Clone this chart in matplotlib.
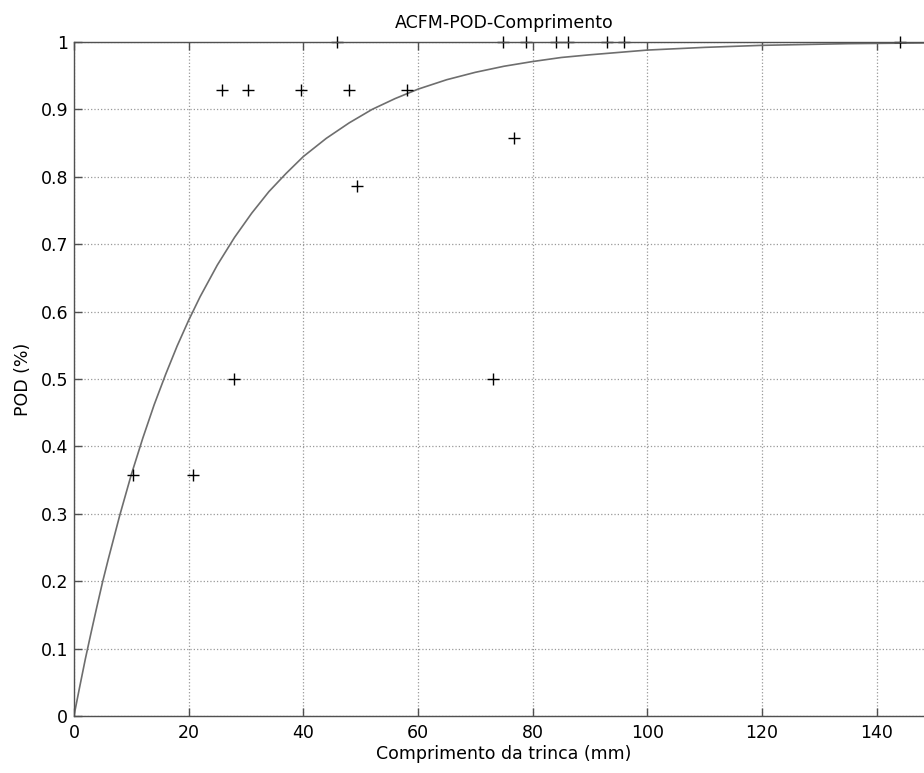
import matplotlib
matplotlib.use("Agg")
import matplotlib.pyplot as plt

# crack length (mm) and hit ratio of each inspected crack
crack_len = [10.3, 20.8, 27.9, 73.0, 49.4, 76.7,
             25.9, 30.4, 39.6, 47.9, 58.1,
             45.9, 74.9, 78.8, 84.1, 86.1, 92.9, 96.0, 144.0]
pod_obs = [0.357, 0.357, 0.5, 0.5, 0.786, 0.857,
           0.929, 0.929, 0.929, 0.929, 0.929,
           1, 1, 1, 1, 1, 1, 1, 1]

# fitted POD curve
curve_x = [0, 1, 2, 3, 4, 5, 6, 8, 10, 12, 14, 16, 18, 20, 22, 25, 28, 31, 34,
           37, 40, 44, 48, 52, 56, 60, 65, 70, 75, 80, 85, 90, 100, 110, 120, 135, 150]
curve_y = [0, 0.043, 0.085, 0.124, 0.162, 0.199, 0.233, 0.298, 0.358, 0.412,
           0.462, 0.507, 0.549, 0.587, 0.622, 0.669, 0.710, 0.746, 0.778,
           0.805, 0.830, 0.857, 0.880, 0.900, 0.916, 0.930, 0.944, 0.955,
           0.964, 0.971, 0.977, 0.981, 0.988, 0.992, 0.995, 0.9975, 0.9987]

x_ticks = [0, 20, 40, 60, 80, 100, 120, 140]
y_ticks = [0, 0.1, 0.2, 0.3, 0.4, 0.5, 0.6, 0.7, 0.8, 0.9, 1]
y_labels = ["0", "0.1", "0.2", "0.3", "0.4", "0.5", "0.6", "0.7", "0.8", "0.9", "1"]

plt.rcParams["font.family"] = ["DejaVu Sans"]
fs = 12.5

fig = plt.figure(figsize=(9.24, 7.73), dpi=100)
ax = fig.add_axes([0.080, 0.0737, 0.931, 0.872])

ax.plot(curve_x, curve_y, color="#6e6e6e", lw=1.2)
ax.plot(crack_len, pod_obs, "+", color="black", ms=8, mew=1.0, clip_on=False)

ax.set_xlim(0, 150)
ax.set_ylim(0, 1)
ax.set_xticks(x_ticks)
ax.set_yticks(y_ticks)
ax.set_yticklabels(y_labels)
ax.grid(True, linestyle=":", color="#999999", lw=0.9)

for s in ["left", "bottom", "top", "right"]:
    ax.spines[s].set_color("#505050")
    ax.spines[s].set_linewidth(1.0)

ax.tick_params(axis="x", direction="in", length=6, width=1, color="#505050",
               top=True, labelsize=fs, pad=6)
ax.tick_params(axis="y", direction="in", length=6, width=1, color="#505050",
               labelsize=fs, pad=4)

ax.set_title("ACFM-POD-Comprimento", fontsize=fs, pad=10)
ax.set_xlabel("Comprimento da trinca (mm)", fontsize=fs, labelpad=2)
ax.set_ylabel("POD (%)", fontsize=fs, labelpad=6)

fig.savefig("out.png", dpi=100)
